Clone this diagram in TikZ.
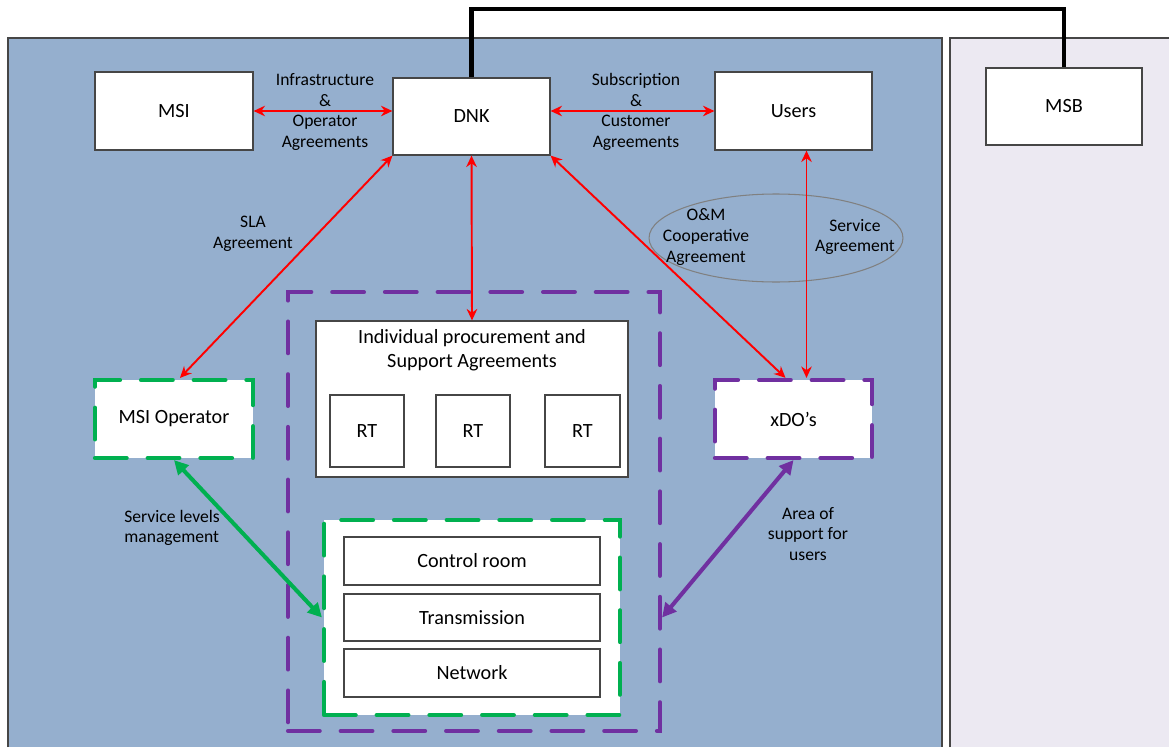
\documentclass[tikz,border=0pt]{standalone}
\usepackage{fontspec}
\setmainfont{Carlito}
\usetikzlibrary{arrows.meta,shapes.geometric}

\definecolor{panelblue}{RGB}{149,175,206}
\definecolor{panelgrey}{RGB}{236,233,242}
\definecolor{boxline}{RGB}{70,70,70}
\definecolor{msgreen}{RGB}{0,176,80}
\definecolor{mspurple}{RGB}{112,48,160}

\tikzset{
  box/.style={draw=boxline, fill=white, line width=0.7pt, inner sep=0pt,
    font=\fontsize{11.5}{14}\selectfont},
  lbl/.style={align=center, inner sep=0pt, font=\fontsize{10}{11.7}\selectfont},
  redarr/.style={red, line width=1.1pt,
    {Stealth[length=6.5pt,width=6pt]}-{Stealth[length=6.5pt,width=6pt]}},
  fatarr/.style={line width=2.3pt,
    {Triangle[length=8pt,width=8pt]}-{Triangle[length=8pt,width=8pt]}},
  dashbox/.style={line width=2.4pt, line cap=round, dash pattern=on 18pt off 12pt}
}

\begin{document}
\begin{tikzpicture}[x=0.02cm,y=-0.02cm]
  \useasboundingbox (0,0) rectangle (1169,747);
  % panels
  \fill[panelblue] (8,38) rectangle (942,747);
  \draw[boxline, line width=0.6pt] (8,747) |- (942,38) -- (942,747);
  \fill[panelgrey] (950,38) rectangle (1169,747);
  \draw[boxline, line width=0.6pt] (950,747) |- (1169,38);

  \node[box, minimum width=3.16cm, minimum height=1.56cm] (msi) at (174,111) {MSI};
  \node[box, minimum width=3.14cm, minimum height=1.54cm] (dnk) at (471.5,116.5) {DNK};
  \node[box, minimum width=3.14cm, minimum height=1.56cm] (users) at (793.5,111) {Users};
  \node[box, minimum width=3.12cm, minimum height=1.54cm] (msb) at (1064,106.5) {MSB};

  \coordinate (wire) at (0,9);
  \draw[line width=2.3pt] (dnk.north) -- (dnk.north |- wire) -| (msb.north);

  \node[draw=gray, line width=0.6pt, ellipse, minimum width=5.08cm, minimum height=1.76cm] (omell) at (776,238) {};

  \node[draw=mspurple, dashbox, minimum width=7.44cm, minimum height=8.78cm] (pbox) at (474,511.5) {};
  \node[box, minimum width=6.24cm, minimum height=3.12cm] (ind) at (472,399) {};
  \node[lbl, font=\fontsize{11.5}{13.6}\selectfont] (indtxt) at (472,350) {Individual procurement and\\Support Agreements};
  \node[box, minimum width=1.48cm, minimum height=1.44cm] (rt1) at (367,431) {RT};
  \node[box, minimum width=1.48cm, minimum height=1.44cm] (rt2) at (473,431) {RT};
  \node[box, minimum width=1.50cm, minimum height=1.44cm] (rt3) at (582.5,431) {RT};

  \node[box, draw=msgreen, dashbox, minimum width=3.16cm, minimum height=1.56cm] (msiop) at (174,419) {MSI Operator};
  \node[box, draw=mspurple, dashbox, minimum width=3.14cm, minimum height=1.56cm] (xdo) at (793.5,419) {xDO’s};

  \node[box, draw=msgreen, dashbox, minimum width=5.92cm, minimum height=3.9cm] (ops) at (472,617.5) {};
  \node[box, minimum width=5.12cm, minimum height=0.96cm] (ctrl) at (472,561) {Control room};
  \node[box, minimum width=5.12cm, minimum height=0.94cm] (trans) at (472,617.5) {Transmission};
  \node[box, minimum width=5.12cm, minimum height=0.96cm] (net) at (472,673) {Network};

  \draw[redarr] (msi.east) -- (msi.east -| dnk.west);
  \draw[redarr] (users.west -| dnk.east) -- (users.west);
  \draw[redarr] (dnk.south west) -- ([xshift=0.12cm]msiop.north);
  \draw[redarr] (dnk.south) -- (ind.north);
  \draw[redarr] (dnk.south east) -- ([xshift=-0.16cm]xdo.north);
  \draw[redarr] ([xshift=0.26cm]users.south) -- ([xshift=0.26cm]xdo.north);
  \draw[fatarr, msgreen] (msiop.south) -- (ops.west);
  \draw[fatarr, mspurple] (xdo.south) -- (pbox.east |- ops.west);

  \node[lbl] (infra) at (325,112) {Infrastructure\\\&\\Operator\\Agreements};
  \node[lbl] (subs) at (636,112) {Subscription\\\&\\Customer\\Agreements};
  \node[lbl] (sla) at (253,234) {SLA\\Agreement};
  \node[lbl] (om) at (706,237) {O\&M\\Cooperative\\Agreement};
  \node[lbl] (svc) at (855,237) {Service\\Agreement};
  \node[lbl, align=left] (slm) at (172,528) {Service levels\\management};
  \node[lbl] (area) at (808,534) {Area of\\support for\\users};
\end{tikzpicture}
\end{document}
